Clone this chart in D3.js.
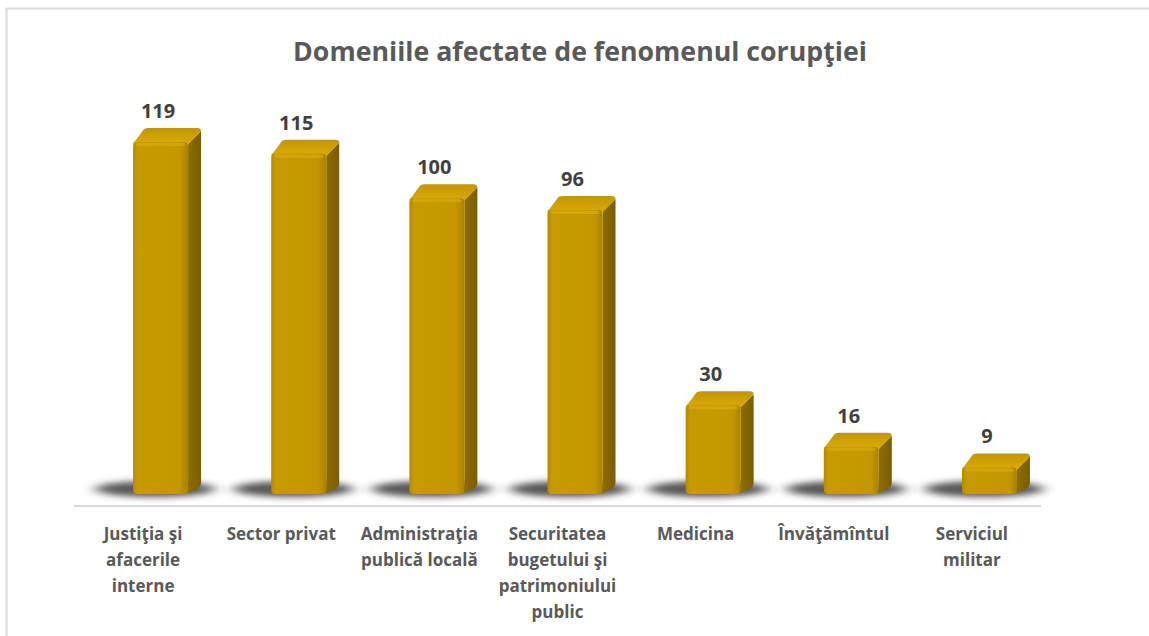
<!DOCTYPE html>
<html>
<head>
<meta charset="utf-8">
<script src="https://cdn.jsdelivr.net/npm/d3@7"></script>
<style>
  html, body { margin: 0; padding: 0; background: #ffffff; }
  svg { display: block; }
</style>
</head>
<body>
<svg id="chart" width="1149" height="636"></svg>
<script>
const categories = [
  "Justiţia şi afacerile interne",
  "Sector privat",
  "Administraţia publică locală",
  "Securitatea bugetului şi patrimoniului public",
  "Medicina",
  "Învăţămîntul",
  "Serviciul militar"
];
const categoryLines = [
  ["Justiţia şi", "afacerile", "interne"],
  ["Sector privat"],
  ["Administraţia", "publică locală"],
  ["Securitatea", "bugetului şi", "patrimoniului", "public"],
  ["Medicina"],
  ["Învăţămîntul"],
  ["Serviciul", "militar"]
];
const values = [119, 115, 100, 96, 30, 16, 9];
const title = "Domeniile afectate de fenomenul corupţiei";

const svg = d3.select("#chart");
const FONT = "'Open Sans', 'Noto Sans', sans-serif";

// chart border
svg.append("rect")
  .attr("x", 6.5).attr("y", 8.5)
  .attr("width", 1160).attr("height", 640)
  .attr("fill", "none").attr("stroke", "#d9d9d9").attr("stroke-width", 2);

// defs
const defs = svg.append("defs");
const blur = defs.append("filter").attr("id", "blur")
  .attr("x", "-50%").attr("y", "-100%").attr("width", "200%").attr("height", "300%");
blur.append("feGaussianBlur").attr("stdDeviation", "7 3");

const gFront = defs.append("linearGradient").attr("id", "gFront")
  .attr("x1", "0").attr("x2", "1").attr("y1", "0").attr("y2", "0");
gFront.append("stop").attr("offset", "0").attr("stop-color", "#b38900");
gFront.append("stop").attr("offset", "0.08").attr("stop-color", "#c79a00");
gFront.append("stop").attr("offset", "0.85").attr("stop-color", "#c49700");
gFront.append("stop").attr("offset", "1").attr("stop-color", "#a98200");

const gTop = defs.append("linearGradient").attr("id", "gTop")
  .attr("x1", "0").attr("x2", "0").attr("y1", "0").attr("y2", "1");
gTop.append("stop").attr("offset", "0").attr("stop-color", "#c39600");
gTop.append("stop").attr("offset", "1").attr("stop-color", "#d8aa0a");

const gSide = defs.append("linearGradient").attr("id", "gSide")
  .attr("x1", "0").attr("x2", "1").attr("y1", "0").attr("y2", "0");
gSide.append("stop").attr("offset", "0").attr("stop-color", "#8f6d00");
gSide.append("stop").attr("offset", "1").attr("stop-color", "#7a5c00");

// scales
const x = d3.scaleBand().domain(categories).range([74, 1041]).paddingInner(0).paddingOuter(0);
const y = d3.scaleLinear().domain([0, 120]).range([494, 139]);

const frontW = 55;   // bar front width
const dx = 13, dy = 14; // depth offset
const frontOffset = 17.5 - frontW / 2; // front left relative to band center

// title
const t = svg.append("text")
  .attr("x", 580).attr("y", 61)
  .attr("text-anchor", "middle")
  .attr("font-family", FONT).attr("font-weight", 700)
  .attr("font-size", 24).attr("fill", "#595959")
  .text(title);
const tw = t.node().getComputedTextLength();
t.attr("font-size", 24 * 574 / tw);

// axis baseline
svg.append("line")
  .attr("x1", x.range()[0]).attr("x2", x.range()[1])
  .attr("y1", 506).attr("y2", 506)
  .attr("stroke", "#d9d9d9").attr("stroke-width", 2);

const bars = svg.append("g").selectAll("g.bar")
  .data(categories.map((c, i) => ({ c, v: values[i], lines: categoryLines[i] })))
  .join("g").attr("class", "bar");

// shadows
bars.append("ellipse")
  .attr("cx", d => x(d.c) + x.bandwidth() / 2 + 12)
  .attr("cy", y(0) - 5)
  .attr("rx", 60).attr("ry", 8)
  .attr("fill", "#3a3a3a").attr("opacity", 0.85)
  .attr("filter", "url(#blur)");

// side faces
bars.append("path")
  .attr("d", d => {
    const x0 = x(d.c) + x.bandwidth() / 2 + frontOffset;
    const x1 = x0 + frontW;
    const yt = y(d.v), yb = y(0);
    return `M${x1},${yt + 2} L${x1 + dx},${yt - dy + 3} L${x1 + dx},${yb - dy + 2} Q${x1 + dx},${yb - dy + 6} ${x1 + dx - 3},${yb - dy + 8} L${x1},${yb - 1} Z`;
  })
  .attr("fill", "url(#gSide)");

// top faces
bars.append("path")
  .attr("d", d => {
    const x0 = x(d.c) + x.bandwidth() / 2 + frontOffset;
    const x1 = x0 + frontW;
    const yt = y(d.v);
    return `M${x0},${yt + 2} Q${x0},${yt} ${x0 + 2},${yt - 1} L${x0 + dx - 2},${yt - dy + 1} Q${x0 + dx},${yt - dy} ${x0 + dx + 3},${yt - dy} L${x1 + dx - 4},${yt - dy} Q${x1 + dx},${yt - dy} ${x1 + dx},${yt - dy + 3} L${x1},${yt + 2} Z`;
  })
  .attr("fill", "url(#gTop)");

// front faces
bars.append("rect")
  .attr("x", d => x(d.c) + x.bandwidth() / 2 + frontOffset)
  .attr("y", d => y(d.v))
  .attr("width", frontW)
  .attr("height", d => y(0) - y(d.v))
  .attr("rx", 4).attr("ry", 4)
  .attr("fill", "url(#gFront)");

// highlight on front top edge
bars.append("rect")
  .attr("x", d => x(d.c) + x.bandwidth() / 2 + frontOffset + 3)
  .attr("y", d => y(d.v) + 1)
  .attr("width", frontW - 6)
  .attr("height", 3)
  .attr("rx", 1.5)
  .attr("fill", "#d9ab12").attr("opacity", 0.7);

// value labels
bars.append("text")
  .attr("x", d => x(d.c) + x.bandwidth() / 2 + 15)
  .attr("y", d => y(d.v) - dy - 10)
  .attr("text-anchor", "middle")
  .attr("font-family", FONT).attr("font-weight", 700)
  .attr("font-size", 20).attr("fill", "#404040")
  .text(d => d.v);

// category labels
const lab = bars.append("text")
  .attr("text-anchor", "middle")
  .attr("font-family", FONT).attr("font-weight", 700)
  .attr("font-size", 17).attr("fill", "#595959");
lab.selectAll("tspan")
  .data(d => d.lines.map(l => ({ l, cx: x(d.c) + x.bandwidth() / 2 })))
  .join("tspan")
  .attr("x", d => d.cx)
  .attr("y", (d, i) => 540 + i * 26)
  .text(d => d.l);
</script>
</body>
</html>
